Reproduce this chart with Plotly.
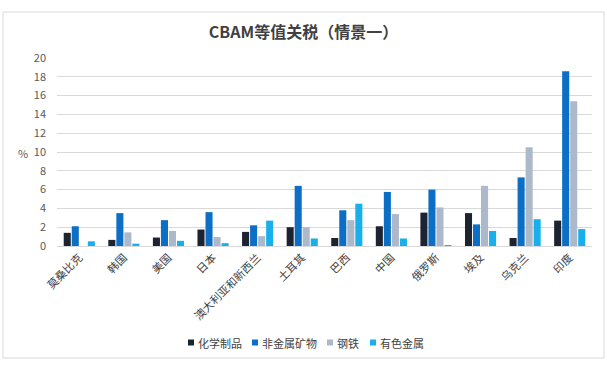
import plotly.graph_objects as go

categories = ["莫桑比克", "韩国", "美国", "日本", "澳大利亚和新西兰", "土耳其", "巴西", "中国", "俄罗斯", "埃及", "乌克兰", "印度"]
chem = [1.4, 0.65, 0.9, 1.75, 1.5, 2.0, 0.85, 2.1, 3.55, 3.5, 0.85, 2.7]
nonmetal = [2.1, 3.5, 2.75, 3.6, 2.2, 6.4, 3.8, 5.75, 6.0, 2.3, 7.3, 18.6]
steel = [0.0, 1.45, 1.6, 0.95, 1.05, 2.0, 2.75, 3.4, 4.1, 6.4, 10.5, 15.4]
nonferrous = [0.5, 0.25, 0.55, 0.3, 2.7, 0.8, 4.5, 0.8, 0.1, 1.6, 2.85, 1.8]
series_names = ["化学制品", "非金属矿物", "钢铁", "有色金属"]
y_ticks = [0, 2, 4, 6, 8, 10, 12, 14, 16, 18, 20]

colors = ["#1c2331", "#0c6ec4", "#acb9ca", "#17b0ec"]
FONT = "Noto Sans CJK SC, Liberation Sans, sans-serif"

fig = go.Figure()
for name, vals, c in zip(series_names, [chem, nonmetal, steel, nonferrous], colors):
    fig.add_trace(go.Bar(x=categories, y=vals, name=name, marker=dict(color=c, line=dict(width=0))))

W, H = 607, 366
ml, mr, mt, mb = 57, 15, 58, 120
pw = W - ml - mr
ph = H - mt - mb

def px_x(x):
    return (x - ml) / pw

def px_y(y):
    return (H - mb - y) / ph

fig.update_layout(
    width=W, height=H,
    margin=dict(l=ml, r=mr, t=mt, b=mb),
    paper_bgcolor="white", plot_bgcolor="white",
    font=dict(family=FONT, size=11, color="#595959"),
    barmode="group", bargap=0.28, bargroupgap=0.12,
    title=dict(text="CBAM等值关税（情景一）", x=0.5, xanchor="center", y=1 - 32 / H, yanchor="middle",
               font=dict(size=16, color="#404040", family=FONT, weight=600)),
    xaxis=dict(tickangle=-45, tickfont=dict(size=11, color="#404040"), showgrid=False,
               showline=True, linecolor="#d9d9d9", ticks=""),
    yaxis=dict(range=[0, 20], tickvals=y_ticks, showgrid=True, gridcolor="#d9d9d9", gridwidth=1,
               zeroline=False, ticks="", ticklabelstandoff=10, tickfont=dict(size=11, color="#595959")),
    showlegend=False,
)

fig.add_annotation(text="%", xref="paper", yref="paper", x=px_x(23), y=px_y(153), showarrow=False,
                   font=dict(size=11, color="#595959"), xanchor="center", yanchor="middle")

# legend drawn as swatches + labels
leg_sq_x = [188, 252, 327, 370]
leg_y = 342.5
for name, c, sx in zip(series_names, colors, leg_sq_x):
    fig.add_shape(type="rect", xref="paper", yref="paper",
                  x0=px_x(sx), x1=px_x(sx + 6), y0=px_y(leg_y + 3), y1=px_y(leg_y - 3),
                  line=dict(width=0), fillcolor=c)
    fig.add_annotation(text=name, xref="paper", yref="paper", x=px_x(sx + 8), y=px_y(leg_y),
                       showarrow=False, xanchor="left", yanchor="middle",
                       font=dict(size=11, color="#404040"))

fig.add_shape(type="rect", xref="paper", yref="paper",
              x0=px_x(3), x1=px_x(604), y0=px_y(358), y1=px_y(12),
              line=dict(color="#d9d9d9", width=1), fillcolor="rgba(0,0,0,0)", layer="below")

fig.write_html("out.html", config={"displayModeBar": False},
               post_script="document.body.style.margin='0';")
